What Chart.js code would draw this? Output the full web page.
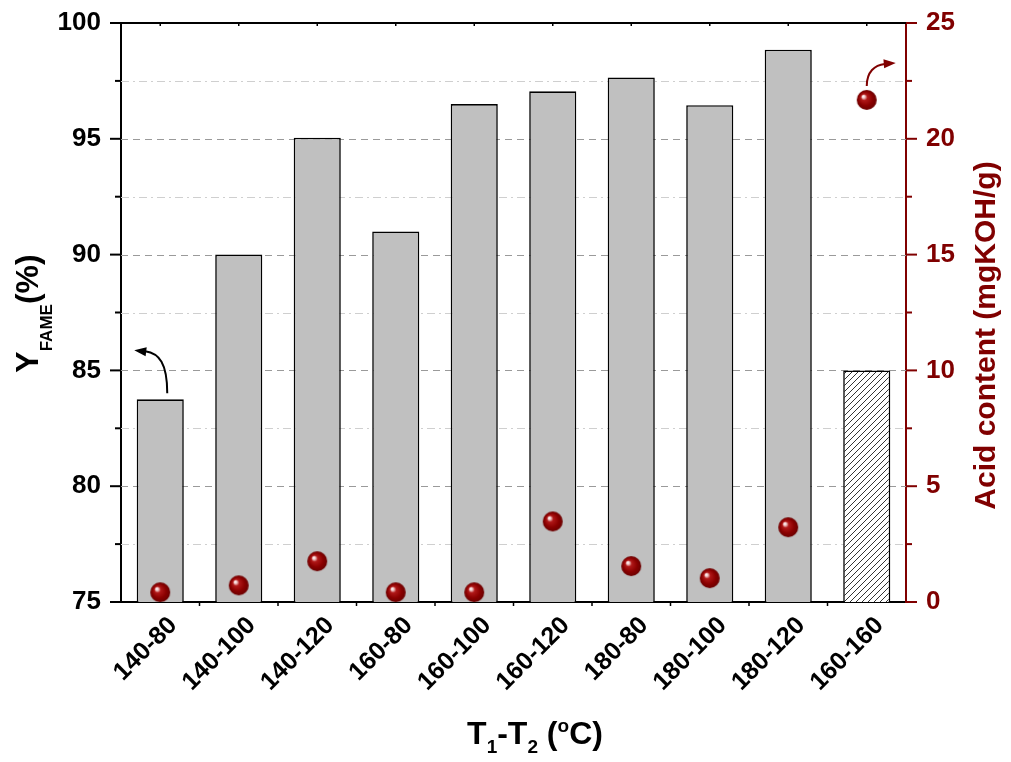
<!DOCTYPE html>
<html>
<head>
<meta charset="utf-8">
<script src="https://cdn.jsdelivr.net/npm/chart.js@4.4.1/dist/chart.umd.min.js"></script>
<style>
  html, body { margin: 0; padding: 0; background: #fff; }
  #wrap { width: 1011px; height: 762px; }
</style>
</head>
<body>
<div id="wrap"><canvas id="chart" width="1011" height="762"></canvas></div>
<script>
'use strict'

// temperatures T1-T2
const categories = ['140-80', '140-100', '140-120', '160-80', '160-100', '160-120', '180-80', '180-100', '180-120', '160-160'];
// FAME yield (%)
const yields = [83.75, 90.0, 95.05, 91.0, 96.5, 97.05, 97.65, 96.45, 98.85, 85.0];
// acid content (mgKOH/g)
const acid = [0.42, 0.72, 1.76, 0.42, 0.42, 3.48, 1.55, 1.03, 3.23, 21.68];

const RED = '#800000';
const FONT = '"Liberation Sans", Arial, sans-serif';

// little red sphere used as point style
function makeBall(r) {
  const c = document.createElement('canvas');
  c.width = c.height = r * 2 + 2;
  const g = c.getContext('2d');
  const cx = r + 1, cy = r + 1;
  const grad = g.createRadialGradient(cx - r * 0.38, cy - r * 0.38, 0, cx, cy, r);
  grad.addColorStop(0, '#ffffff');
  grad.addColorStop(0.14, '#f4d0d0');
  grad.addColorStop(0.32, '#b01818');
  grad.addColorStop(0.7, '#8a0000');
  grad.addColorStop(1, '#6a0000');
  g.fillStyle = grad;
  g.beginPath();
  g.arc(cx, cy, r, 0, Math.PI * 2);
  g.fill();
  return c;
}

// hatched fill for the last bar
function makeHatch() {
  const c = document.createElement('canvas');
  c.width = c.height = 6;
  const g = c.getContext('2d');
  g.fillStyle = '#fff';
  g.fillRect(0, 0, 6, 6);
  g.strokeStyle = '#000';
  g.lineWidth = 0.8;
  g.beginPath();
  g.moveTo(0, 6); g.lineTo(6, 0);
  g.moveTo(-3, 3); g.lineTo(3, -3);
  g.moveTo(3, 9); g.lineTo(9, 3);
  g.stroke();
  return g.createPattern(c, 'repeat');
}

const ctx = document.getElementById('chart').getContext('2d');
const hatch = makeHatch();
const ball = makeBall(10);

const barFill = categories.map((c, i) => i === categories.length - 1 ? hatch : '#c0c0c0');

// draw text made of parts (subscripts / superscripts)
function drawParts(g, parts, color) {
  let total = 0;
  parts.forEach(p => {
    g.font = 'bold ' + p.size + 'px ' + FONT;
    p.w = g.measureText(p.text).width;
    total += p.w;
  });
  let x = -total / 2;
  g.fillStyle = color;
  g.textBaseline = 'alphabetic';
  g.textAlign = 'left';
  parts.forEach(p => {
    g.font = 'bold ' + p.size + 'px ' + FONT;
    g.fillText(p.text, x, p.dy || 0);
    x += p.w;
  });
}

function arrowHead(g, x, y, ang, color) {
  g.save();
  g.translate(x, y);
  g.rotate(ang);
  g.fillStyle = color;
  g.beginPath();
  g.moveTo(0, 0);
  g.lineTo(-12, -4.5);
  g.lineTo(-12, 4.5);
  g.closePath();
  g.fill();
  g.restore();
}

const decorations = {
  id: 'decorations',
  beforeDatasetsDraw(chart) {
    const g = chart.ctx;
    const a = chart.chartArea;
    const y = chart.scales.y;
    g.save();
    y.ticks.forEach(t => {
      if (t.value <= y.min || t.value >= y.max) return;
      const py = Math.round(y.getPixelForValue(t.value)) + 0.5;
      const major = t.value % 5 === 0;
      g.strokeStyle = major ? '#9a9a9a' : '#cfcfcf';
      g.lineWidth = 1;
      g.setLineDash(major ? [7, 5] : [8, 4, 2, 4]);
      g.beginPath();
      g.moveTo(a.left, py);
      g.lineTo(a.right, py);
      g.stroke();
    });
    g.restore();
  },
  afterDraw(chart) {
    const g = chart.ctx;
    const a = chart.chartArea;
    const x = chart.scales.x;
    const y = chart.scales.y;
    const y1 = chart.scales.y1;
    g.save();
    g.setLineDash([]);
    // top frame line
    g.strokeStyle = '#000';
    g.lineWidth = 2;
    g.beginPath();
    g.moveTo(a.left, a.top);
    g.lineTo(a.right, a.top);
    g.stroke();

    // tick marks on left (black) and right (red) axes
    y.ticks.forEach(t => {
      const py = y.getPixelForValue(t.value);
      const len = t.value % 5 === 0 ? 11 : 6;
      g.strokeStyle = '#000';
      g.beginPath();
      g.moveTo(a.left - len, py);
      g.lineTo(a.left, py);
      g.stroke();
    });
    y1.ticks.forEach(t => {
      const py = y1.getPixelForValue(t.value);
      const len = t.value % 5 === 0 ? 11 : 6;
      g.strokeStyle = RED;
      g.beginPath();
      g.moveTo(a.right, py);
      g.lineTo(a.right + len, py);
      g.stroke();
    });
    // small ticks on bottom (between categories) and top (at categories)
    g.strokeStyle = '#000';
    g.lineWidth = 1.5;
    for (let i = 0; i < categories.length; i++) {
      const px = x.getPixelForValue(i);
      const half = (x.getPixelForValue(1) - x.getPixelForValue(0)) / 2;
      if (i > 0) {
        g.beginPath();
        g.moveTo(px - half, a.bottom);
        g.lineTo(px - half, a.bottom + 4);
        g.stroke();
      }
      g.beginPath();
      g.moveTo(px, a.top);
      g.lineTo(px, a.top + 3);
      g.stroke();
    }

    // curved arrows pointing to the axis that belongs to each series
    g.lineWidth = 2;
    const bx = x.getPixelForValue(0) + 7;
    const by = y.getPixelForValue(yields[0]) - 6;
    g.strokeStyle = '#000';
    g.beginPath();
    g.moveTo(bx, by);
    g.bezierCurveTo(bx, by - 30, bx - 8, by - 40, bx - 22, by - 42);
    g.stroke();
    arrowHead(g, bx - 33, by - 43, Math.PI + 0.12, '#000');

    const last = categories.length - 1;
    const rx = x.getPixelForValue(last);
    const ry = y1.getPixelForValue(acid[last]) - 14;
    g.strokeStyle = RED;
    g.beginPath();
    g.moveTo(rx, ry);
    g.bezierCurveTo(rx, ry - 14, rx + 8, ry - 21, rx + 18, ry - 22);
    g.stroke();
    arrowHead(g, rx + 29, ry - 23, -0.08, RED);

    // axis titles
    g.save();
    g.translate(38, (a.top + a.bottom) / 2 + 1);
    g.rotate(-Math.PI / 2);
    drawParts(g, [
      { text: 'Y', size: 32 },
      { text: 'FAME', size: 17, dy: 14 },
      { text: '(%)', size: 32 }
    ], '#000');
    g.restore();

    g.save();
    g.translate(995, (a.top + a.bottom) / 2 + 23);
    g.rotate(-Math.PI / 2);
    drawParts(g, [{ text: 'Acid content (mgKOH/g)', size: 30 }], RED);
    g.restore();

    g.save();
    g.translate(535, 744);
    drawParts(g, [
      { text: 'T', size: 32 },
      { text: '1', size: 19, dy: 9 },
      { text: '-T', size: 32 },
      { text: '2', size: 19, dy: 9 },
      { text: ' (', size: 32 },
      { text: 'o', size: 19, dy: -12 },
      { text: 'C)', size: 32 }
    ], '#000');
    g.restore();

    g.restore();
  }
};

new Chart(ctx, {
  data: {
    labels: categories,
    datasets: [{
      type: 'line',
      label: 'Acid content',
      data: acid,
      yAxisID: 'y1',
      showLine: false,
      pointStyle: ball,
      pointRadius: 10,
      pointHoverRadius: 10,
      order: 0
    }, {
      type: 'bar',
      label: 'Y FAME',
      data: yields,
      yAxisID: 'y',
      backgroundColor: barFill,
      borderColor: '#000',
      borderWidth: 1.6,
      borderSkipped: false,
      barPercentage: 0.6,
      categoryPercentage: 1,
      order: 1
    }]
  },
  options: {
    responsive: false,
    animation: false,
    layout: { padding: { top: 23, left: 0, right: 0, bottom: 0 } },
    plugins: {
      legend: { display: false },
      tooltip: { enabled: false }
    },
    scales: {
      x: {
        type: 'category',
        offset: true,
        grid: { drawOnChartArea: false, drawTicks: false },
        border: { color: '#000', width: 2 },
        ticks: {
          color: '#000',
          font: { family: FONT, size: 25, weight: 'bold' },
          minRotation: 45,
          maxRotation: 45,
          padding: 9,
          labelOffset: 13
        },
        afterFit(scale) {
          scale.height = 160;
          scale.paddingLeft = 0;
          scale.paddingRight = 0;
        }
      },
      y: {
        position: 'left',
        min: 75,
        max: 100,
        grid: { drawOnChartArea: false, drawTicks: false },
        border: { color: '#000', width: 2 },
        ticks: {
          stepSize: 2.5,
          color: '#000',
          font: { family: FONT, size: 26, weight: 'bold' },
          padding: 20,
          callback: v => v % 5 === 0 ? v : ''
        },
        afterFit(scale) {
          scale.width = 121;
          scale.paddingTop = 0;
          scale.paddingBottom = 0;
        }
      },
      y1: {
        position: 'right',
        min: 0,
        max: 25,
        grid: { drawOnChartArea: false, drawTicks: false },
        border: { color: RED, width: 2 },
        ticks: {
          stepSize: 2.5,
          color: RED,
          font: { family: FONT, size: 26, weight: 'bold' },
          padding: 20,
          callback: v => v % 5 === 0 ? v : ''
        },
        afterFit(scale) {
          scale.width = 105;
          scale.paddingTop = 0;
          scale.paddingBottom = 0;
        }
      }
    }
  },
  plugins: [decorations]
});
</script>
</body>
</html>
